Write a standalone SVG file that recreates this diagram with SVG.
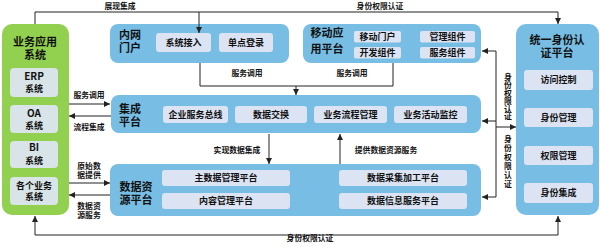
<svg xmlns="http://www.w3.org/2000/svg" width="600" height="247" viewBox="0 0 600 247">
<defs>
<marker id="ah" markerWidth="6" markerHeight="6" refX="6" refY="3" orient="auto" markerUnits="userSpaceOnUse">
<path d="M0,0 L6,3 L0,6 z" fill="#222"/>
</marker>
<style>
text{font-family:"Noto Sans CJK SC","Noto Sans",sans-serif;font-weight:bold;fill:#111;text-anchor:middle}
.green{fill:#92d050}
.blue{fill:#78bde3}
.gin{fill:#d8e4e8}
.bin{fill:#dce4f4}
.t{font-size:11px}
.s{font-size:9px}
.l{font-size:7.8px}
.g{font-size:10px}
.v{writing-mode:vertical-rl;text-orientation:upright}
.c{fill:none;stroke:#222;stroke-width:1}
.a{marker-end:url(#ah)}
</style>
</defs>
<rect width="600" height="247" fill="#ffffff"/>

<g id="biz-app">
<rect class="green" x="2" y="24" width="67" height="191" rx="10"/>
<text class="t" x="35" y="46">业务应用<tspan x="35" dy="13">系统</tspan></text>
<rect class="gin" x="10" y="68" width="48" height="29" rx="4"/>
<text class="g" x="34" y="80">ERP<tspan class="s" x="34" dy="12">系统</tspan></text>
<rect class="gin" x="10" y="105" width="48" height="28" rx="4"/>
<text class="g" x="34" y="117">OA<tspan class="s" x="34" dy="12">系统</tspan></text>
<rect class="gin" x="10" y="141" width="48" height="27" rx="4"/>
<text class="g" x="34" y="151">BI<tspan class="s" x="34" dy="13">系统</tspan></text>
<rect class="gin" x="10" y="177" width="48" height="28" rx="4"/>
<text class="s" x="34" y="189">各个业务<tspan x="34" dy="11">系统</tspan></text>
</g>

<g id="portal">
<rect class="blue" x="110" y="24" width="179" height="39" rx="8"/>
<text class="t" x="130" y="39">内网<tspan x="130" dy="13">门户</tspan></text>
<rect class="bin" x="156" y="33" width="55" height="19" rx="3"/>
<text class="s" x="183.5" y="46">系统接入</text>
<rect class="bin" x="219" y="33" width="54" height="19" rx="3"/>
<text class="s" x="246" y="46">单点登录</text>
</g>

<g id="mobile">
<rect class="blue" x="303" y="24" width="178" height="39" rx="8"/>
<text class="t" x="327" y="37">移动应<tspan x="327" dy="16">用平台</tspan></text>
<rect class="bin" x="354" y="31" width="47" height="11.5" rx="2"/>
<text class="s" x="377.5" y="40">移动门户</text>
<rect class="bin" x="354" y="47" width="47" height="11.5" rx="2"/>
<text class="s" x="377.5" y="56">开发组件</text>
<rect class="bin" x="420" y="31" width="55" height="11.5" rx="2"/>
<text class="s" x="447.5" y="40">管理组件</text>
<rect class="bin" x="420" y="47" width="55" height="11.5" rx="2"/>
<text class="s" x="447.5" y="56">服务组件</text>
</g>

<g id="integration">
<rect class="blue" x="111" y="95" width="370" height="38" rx="8"/>
<text class="t" x="130" y="113">集成<tspan x="130" dy="13">平台</tspan></text>
<rect class="bin" x="163" y="106" width="65" height="17" rx="3"/>
<text class="s" x="195.5" y="118">企业服务总线</text>
<rect class="bin" x="235" y="106" width="72" height="17" rx="3"/>
<text class="s" x="271" y="118">数据交换</text>
<rect class="bin" x="314" y="106" width="73" height="17" rx="3"/>
<text class="s" x="350.5" y="118">业务流程管理</text>
<rect class="bin" x="394" y="106" width="73" height="17" rx="3"/>
<text class="s" x="430.5" y="118">业务活动监控</text>
</g>

<g id="data-res">
<rect class="blue" x="110" y="164" width="371" height="52" rx="8"/>
<text class="t" x="136" y="191">数据资<tspan x="136" dy="13">源平台</tspan></text>
<rect class="bin" x="162" y="170" width="128" height="16" rx="3"/>
<text class="s" x="226" y="181">主数据管理平台</text>
<rect class="bin" x="162" y="193" width="128" height="16" rx="3"/>
<text class="s" x="226" y="204">内容管理平台</text>
<rect class="bin" x="339" y="170" width="128" height="16" rx="3"/>
<text class="s" x="403" y="181">数据采集加工平台</text>
<rect class="bin" x="339" y="193" width="128" height="16" rx="3"/>
<text class="s" x="403" y="204">数据信息服务平台</text>
</g>

<g id="auth">
<rect class="blue" x="516" y="24" width="83" height="191" rx="10"/>
<text class="t" x="557" y="44">统一身份认<tspan x="557" dy="13">证平台</tspan></text>
<rect class="bin" x="524" y="70" width="69" height="20" rx="3"/>
<text class="s" x="558.5" y="83">访问控制</text>
<rect class="bin" x="524" y="108" width="69" height="19" rx="3"/>
<text class="s" x="558.5" y="121">身份管理</text>
<rect class="bin" x="524" y="146" width="69" height="19" rx="3"/>
<text class="s" x="558.5" y="159">权限管理</text>
<rect class="bin" x="524" y="183" width="69" height="20" rx="3"/>
<text class="s" x="558.5" y="196">身份集成</text>
</g>

<g id="connectors">
<polyline class="c a" points="35,24 35,12 558,12 558,24"/>
<polyline class="c a" points="199,12 199,33"/>
<text class="l" x="120" y="9">展现集成</text>
<text class="l" x="380" y="9">身份权限认证</text>

<polyline class="c" points="200,63 200,86 393,86 393,63"/>
<polyline class="c a" points="296,86 296,95"/>
<text class="l" x="247" y="76">服务调用</text>
<text class="l" x="352" y="76">服务调用</text>

<polyline class="c a" points="69,104 110,104"/>
<text class="l" x="89" y="98">服务调用</text>
<polyline class="c a" points="111,116 69,116"/>
<text class="l" x="89" y="130">流程集成</text>

<polyline class="c a" points="69,183 110,183"/>
<text class="l" x="89" y="169">原始数<tspan x="89" dy="9">据提供</tspan></text>
<polyline class="c a" points="110,195 69,195"/>
<text class="l" x="89" y="209">数据资<tspan x="89" dy="9">源服务</tspan></text>

<polyline class="c a" points="269,134 269,164"/>
<text class="l" x="237" y="153">实现数据集成</text>
<polyline class="c a" points="340,164 340,134"/>
<text class="l" x="386" y="153">提供数据资源服务</text>

<polyline class="c" points="496,51 496,197"/>
<polyline class="c a" points="496,51 482,51"/>
<polyline class="c a" points="496,121 482,121"/>
<polyline class="c a" points="496,197 482,197"/>
<polyline class="c a" points="496,127 516,127"/>
<text class="l v" x="508" y="97">身份权限认证</text>
<text class="l v" x="508" y="162" letter-spacing="1.2">身份权限认证</text>

<polyline class="c a" points="35,235 35,216"/>
<polyline class="c a" points="35,235 558,235 558,216"/>
<text class="l" x="310" y="241">身份权限认证</text>
</g>
</svg>
